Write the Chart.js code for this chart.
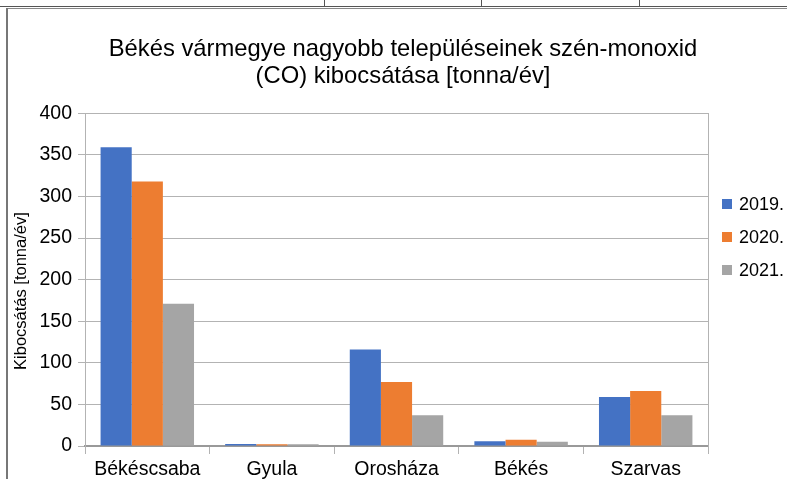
<!DOCTYPE html>
<html lang="hu">
<head>
    <meta charset="UTF-8">
    <script src="https://cdn.jsdelivr.net/npm/chart.js"></script>
    <title>CO kibocsátás</title>
    <style>
        body { margin: 0; background: #fff; width: 787px; height: 479px; overflow: hidden; position: relative; }
        .ln { position: absolute; background: #666; }
        #wrap { position: absolute; left: 0; top: 0; width: 806px; height: 479px; }
    </style>
</head>
<body>
    <!-- spreadsheet cell borders around the chart -->
    <div class="ln" style="left:0;top:6px;width:787px;height:1px;background:#555"></div>
    <div class="ln" style="left:324px;top:0;width:1px;height:7px;background:#555"></div>
    <div class="ln" style="left:481px;top:0;width:1px;height:7px;background:#555"></div>
    <div class="ln" style="left:639px;top:0;width:1px;height:7px;background:#555"></div>
    <div class="ln" style="left:6px;top:8px;width:781px;height:1px;background:#888"></div>
    <div class="ln" style="left:6px;top:8px;width:2px;height:471px;background:#777"></div>

    <div id="wrap">
        <canvas id="myChart" width="806" height="479"></canvas>
    </div>

    <script>
        const telepulesek = ['Békéscsaba', 'Gyula', 'Orosháza', 'Békés', 'Szarvas'];
        const evek = ['2019.', '2020.', '2021.'];
        const ertek2019 = [359, 2.4, 116, 5.6, 59];
        const ertek2020 = [318, 2.2, 77, 7.6, 66];
        const ertek2021 = [171, 2.2, 37, 5, 37];
        const szinek = ['#4472c4', '#ed7d31', '#a5a5a5'];
        const yTicks = [0, 50, 100, 150, 200, 250, 300, 350, 400];

        const betu = '"Liberation Sans", Arial, sans-serif';

        // legend drawn by hand so it sits where the original one is
        const sajatLegend = {
            id: 'sajatLegend',
            afterDraw(chart) {
                const ctx = chart.ctx;
                const x = chart.chartArea.right + 14;
                ctx.save();
                ctx.font = '18px ' + betu;
                ctx.textBaseline = 'middle';
                chart.data.datasets.forEach((ds, i) => {
                    const y = 204 + i * 33;
                    ctx.fillStyle = ds.backgroundColor;
                    ctx.fillRect(x, y - 5, 10, 10);
                    ctx.fillStyle = '#000';
                    ctx.fillText(ds.label, x + 17, y + 1);
                });
                ctx.restore();
            }
        };

        const ctx = document.getElementById('myChart').getContext('2d');
        const myChart = new Chart(ctx, {
            type: 'bar',
            data: {
                labels: telepulesek,
                datasets: [ertek2019, ertek2020, ertek2021].map((d, i) => ({
                    label: evek[i],
                    data: d,
                    backgroundColor: szinek[i],
                    categoryPercentage: 0.75,
                    barPercentage: 1.0
                }))
            },
            options: {
                responsive: false,
                animation: false,
                devicePixelRatio: 1,
                layout: { padding: 0 },
                scales: {
                    x: {
                        grid: {
                            offset: true,
                            drawOnChartArea: false,
                            tickLength: 8,
                            color: '#b3b3b3'
                        },
                        border: { color: '#999', width: 2 },
                        ticks: {
                            color: '#000',
                            padding: 4,
                            font: { family: betu, size: 19.5 }
                        },
                        afterFit(s) { s.height = 33; }
                    },
                    y: {
                        min: 0,
                        max: 400,
                        afterBuildTicks(s) { s.ticks = yTicks.map(v => ({ value: v })); },
                        grid: { color: '#b3b3b3', tickLength: 7 },
                        border: { color: '#b3b3b3' },
                        ticks: {
                            color: '#000',
                            padding: 6,
                            font: { family: betu, size: 19.5 }
                        },
                        title: {
                            display: true,
                            // trailing spaces nudge the rotated text down a little, like the original
                            text: 'Kibocsátás [tonna/év]     ',
                            color: '#000',
                            font: { family: betu, size: 16.5 },
                            padding: { top: 12, bottom: 0 }
                        },
                        afterFit(s) { s.width = 85; }
                    },
                    jobb: {
                        position: 'right',
                        min: 0,
                        max: 1,
                        grid: { display: false },
                        border: { display: true, color: '#b3b3b3' },
                        ticks: { display: false },
                        afterFit(s) { s.width = 98; }
                    }
                },
                plugins: {
                    legend: { display: false },
                    tooltip: { enabled: false },
                    title: {
                        display: true,
                        text: ['Békés vármegye nagyobb településeinek szén-monoxid', '(CO) kibocsátása [tonna/év]'],
                        color: '#000',
                        font: { family: betu, size: 23.8, weight: 'normal', lineHeight: 1.15 },
                        padding: { top: 35.5, bottom: 23 }
                    }
                }
            },
            plugins: [sajatLegend]
        });
    </script>
</body>
</html>
